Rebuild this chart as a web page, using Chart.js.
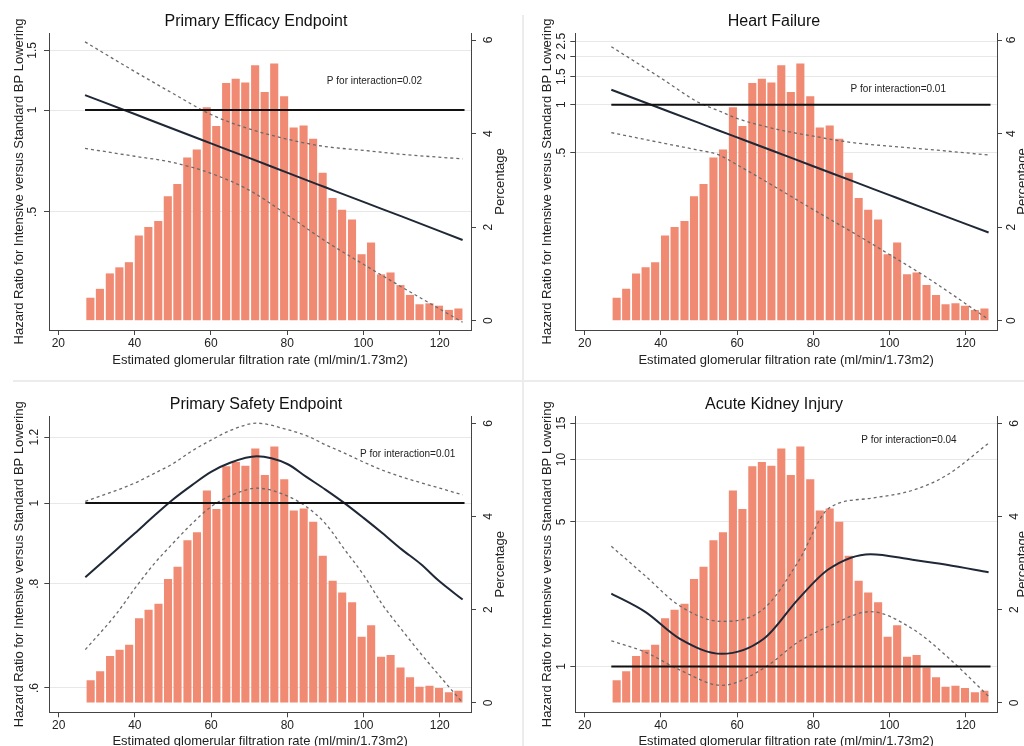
<!DOCTYPE html>
<html>
<head>
<meta charset="utf-8">
<script src="https://cdn.jsdelivr.net/npm/chart.js@4.4.1/dist/chart.umd.min.js"></script>
<style>
html, body { margin: 0; padding: 0; background: #fff; }
body { width: 1024px; height: 746px; overflow: hidden; position: relative; }
.panel { position: absolute; }
.sep { position: absolute; background: #ececec; }
</style>
</head>
<body>
<div class="sep" style="left:522px;top:15px;width:2px;height:731px"></div>
<div class="sep" style="left:13px;top:380px;width:1011px;height:2px"></div>
<div class="panel" style="left:0;top:0;width:512px;height:373px"><canvas id="efficacy"></canvas></div>
<div class="panel" style="left:512px;top:0;width:524px;height:373px"><canvas id="heart"></canvas></div>
<div class="panel" style="left:0;top:373px;width:512px;height:390px"><canvas id="safety"></canvas></div>
<div class="panel" style="left:512px;top:373px;width:524px;height:390px"><canvas id="kidney"></canvas></div>
<script>
// eGFR histogram, the same in every panel
var binMid = [28.4, 30.9, 33.5, 36.0, 38.5, 41.1, 43.6, 46.2, 48.7, 51.2, 53.8, 56.3, 58.9,
    61.4, 64.0, 66.5, 69.0, 71.6, 74.1, 76.6, 79.2, 81.7, 84.3, 86.8, 89.3, 91.9, 94.4,
    97.0, 99.5, 102.0, 104.6, 107.1, 109.7, 112.2, 114.7, 117.3, 119.8, 122.4, 124.9];
var binPct = [0.49, 0.68, 1.01, 1.14, 1.25, 1.82, 2.00, 2.13, 2.66, 2.92, 3.49, 3.66, 4.56,
    4.16, 5.08, 5.17, 5.09, 5.46, 4.89, 5.50, 4.80, 4.13, 4.17, 3.89, 3.16, 2.62, 2.37,
    2.16, 1.42, 1.67, 0.99, 1.03, 0.76, 0.55, 0.35, 0.37, 0.32, 0.23, 0.26];

var gfrTicks = [20, 40, 60, 80, 100, 120];
var pctTicks = [0, 2, 4, 6];

// reference line HR = 1
var refGfr = [27, 126.5];
var refHR = [1, 1];

// Primary efficacy endpoint
var effGfr = [27, 40, 50, 60, 70, 80, 90, 100, 110, 126];
var effHR = [1.107, 0.973, 0.880, 0.797, 0.722, 0.653, 0.591, 0.535, 0.485, 0.413];
var effUpper = [1.59, 1.30, 1.12, 0.97, 0.88, 0.82, 0.78, 0.76, 0.74, 0.717];
var effLower = [0.77, 0.73, 0.70, 0.65, 0.58, 0.49, 0.41, 0.35, 0.30, 0.236];
var effTicks = [0.5, 1, 1.5];
var effLabels = ['.5', '1', '1.5'];

// Heart failure
var hfGfr = [27, 40, 50, 55, 60, 70, 80, 90, 100, 110, 126];
var hfHR = [1.24, 0.947, 0.769, 0.692, 0.624, 0.507, 0.411, 0.334, 0.271, 0.220, 0.158];
var hfUpper = [2.31, 1.47, 1.03, 0.92, 0.82, 0.705, 0.635, 0.58, 0.55, 0.525, 0.484];
var hfLower = [0.668, 0.578, 0.518, 0.487, 0.42, 0.305, 0.22, 0.16, 0.115, 0.082, 0.045];
var hfTicks = [0.5, 1, 1.5, 2, 2.5];
var hfLabels = ['.5', '1', '1.5', '2', '2.5'];

// Primary safety endpoint
var safGfr = [27, 35, 40, 45, 50, 55, 60, 65, 72, 80, 85, 90, 95, 100, 105, 110, 115, 120, 126];
var safHR = [0.815, 0.878, 0.920, 0.965, 1.01, 1.051, 1.09, 1.118, 1.138, 1.114, 1.075,
    1.038, 1.0, 0.96, 0.92, 0.88, 0.845, 0.805, 0.766];
var safUpper = [1.005, 1.035, 1.057, 1.085, 1.115, 1.155, 1.19, 1.222, 1.247, 1.225, 1.205,
    1.175, 1.148, 1.12, 1.095, 1.075, 1.058, 1.042, 1.023];
var safLower = [0.667, 0.735, 0.79, 0.845, 0.895, 0.945, 0.99, 1.02, 1.042, 1.02, 0.99,
    0.945, 0.88, 0.82, 0.755, 0.705, 0.66, 0.62, 0.576];
var safTicks = [0.6, 0.8, 1, 1.2];
var safLabels = ['.6', '.8', '1', '1.2'];

// Acute kidney injury
var akiGfr = [27, 36, 45, 56, 67, 76, 84, 95, 106, 115, 126];
var akiHR = [2.25, 1.83, 1.36, 1.15, 1.36, 2.11, 2.95, 3.49, 3.28, 3.10, 2.85];
var akiUpper = [3.81, 2.73, 1.96, 1.65, 1.9, 3.2, 5.8, 6.5, 7.1, 8.4, 12.0];
var akiLower = [1.33, 1.17, 0.96, 0.81, 0.98, 1.31, 1.56, 1.84, 1.52, 1.12, 0.717];
var akiTicks = [1, 5, 10, 15];
var akiLabels = ['1', '5', '10', '15'];

Chart.defaults.font.family = '"Liberation Sans", Arial, Helvetica, sans-serif';
Chart.defaults.color = '#222';

// P value note and the right axis title (reads upward, like the left one)
var notePlugin = {
    id: 'note',
    afterDatasetsDraw: function (chart, args, opts) {
        var ctx = chart.ctx;
        var x = chart.scales.x, yR = chart.scales.yR, area = chart.chartArea;
        ctx.save();
        ctx.fillStyle = '#222';
        ctx.textAlign = 'center';
        ctx.textBaseline = 'middle';
        ctx.font = '10px "Liberation Sans", Arial, sans-serif';
        ctx.fillText(opts.text, x.getPixelForValue(opts.x), yR.getPixelForValue(opts.y));
        ctx.font = '13px "Liberation Sans", Arial, sans-serif';
        ctx.translate(yR.right - opts.titleOffset, (area.top + area.bottom) / 2);
        ctx.rotate(-Math.PI / 2);
        ctx.fillText('Percentage', 0, 0);
        ctx.restore();
    }
};

function points(xs, ys) {
    return xs.map(function (v, i) { return {x: v, y: ys[i]}; });
}

function drawPanel(id, p) {
    var ctx = document.getElementById(id);
    return new Chart(ctx, {
        type: 'bar',
        data: {
            datasets: [{
                type: 'line',
                data: points(refGfr, refHR),
                yAxisID: 'yL',
                borderColor: '#111',
                borderWidth: 2,
                pointRadius: 0
            }, {
                type: 'line',
                data: points(p.gfr, p.hr),
                yAxisID: 'yL',
                borderColor: '#1f2836',
                borderWidth: 2,
                pointRadius: 0,
                cubicInterpolationMode: 'monotone'
            }, {
                type: 'line',
                data: points(p.gfr, p.upper),
                yAxisID: 'yL',
                borderColor: '#6a6a6a',
                borderWidth: 1.3,
                borderDash: [3, 3],
                pointRadius: 0,
                cubicInterpolationMode: 'monotone'
            }, {
                type: 'line',
                data: points(p.gfr, p.lower),
                yAxisID: 'yL',
                borderColor: '#6a6a6a',
                borderWidth: 1.3,
                borderDash: [3, 3],
                pointRadius: 0,
                cubicInterpolationMode: 'monotone'
            }, {
                type: 'bar',
                data: points(binMid, binPct),
                yAxisID: 'yR',
                backgroundColor: 'rgb(240,138,115)',
                barPercentage: 0.85,
                categoryPercentage: 1,
                order: 5
            }]
        },
        options: {
            responsive: true,
            maintainAspectRatio: false,
            animation: false,
            events: [],
            plugins: {
                legend: {display: false},
                tooltip: {enabled: false},
                title: {
                    display: true,
                    text: p.title,
                    font: {size: 16, weight: 'normal'},
                    color: '#111',
                    padding: {top: p.box.titleTop, bottom: p.box.titleBottom}
                },
                note: {text: p.note, x: p.noteX, y: p.noteY, titleOffset: p.box.pctTitle}
            },
            scales: {
                x: {
                    type: 'linear',
                    min: 17.55,
                    max: 128.2,
                    offset: false,
                    afterBuildTicks: function (s) { s.ticks = gfrTicks.map(function (v) { return {value: v}; }); },
                    afterFit: function (s) { s.height = p.box.bottom; },
                    grid: {drawOnChartArea: false, offset: false, tickLength: 5, tickColor: '#444'},
                    border: {color: '#444'},
                    ticks: {font: {size: 12}, padding: 1, maxRotation: 0, autoSkip: false},
                    title: {
                        display: true,
                        text: 'Estimated glomerular filtration rate (ml/min/1.73m2)',
                        font: {size: 13},
                        padding: {top: 0, bottom: p.box.xTitle}
                    }
                },
                yL: {
                    type: 'logarithmic',
                    position: 'left',
                    min: p.min,
                    max: p.max,
                    afterBuildTicks: function (s) { s.ticks = p.ticks.map(function (v) { return {value: v}; }); },
                    afterFit: function (s) { s.width = p.box.left; },
                    grid: {color: '#e8e8e8', tickColor: '#444', tickLength: 5},
                    border: {color: '#444'},
                    ticks: {
                        minRotation: 90,
                        maxRotation: 90,
                        crossAlign: 'center',
                        padding: p.box.leftPad,
                        autoSkip: false,
                        font: {size: 12},
                        callback: function (v, i) { return p.labels[i]; }
                    },
                    title: {
                        display: true,
                        text: 'Hazard Ratio for Intensive versus Standard BP Lowering',
                        font: {size: 13},
                        padding: {top: p.box.leftTitle, bottom: 0}
                    }
                },
                yR: {
                    type: 'linear',
                    position: 'right',
                    min: -0.2,
                    max: 6.15,
                    afterBuildTicks: function (s) { s.ticks = pctTicks.map(function (v) { return {value: v}; }); },
                    afterFit: function (s) { s.width = p.box.right; },
                    grid: {drawOnChartArea: false, tickColor: '#444', tickLength: 5},
                    border: {color: '#444'},
                    ticks: {
                        minRotation: 90,
                        maxRotation: 90,
                        crossAlign: 'center',
                        padding: p.box.rightPad,
                        autoSkip: false,
                        font: {size: 12}
                    }
                }
            }
        },
        plugins: [notePlugin]
    });
}

drawPanel('efficacy', {
    title: 'Primary Efficacy Endpoint',
    gfr: effGfr, hr: effHR, upper: effUpper, lower: effLower,
    ticks: effTicks, labels: effLabels, min: 0.2238, max: 1.689,
    note: 'P for interaction=0.02', noteX: 102.9, noteY: 5.12,
    box: {titleTop: 12.4, titleBottom: 1.4, bottom: 43, xTitle: 5.2, left: 49, leftTitle: 11.5,
          leftPad: 2.7, right: 41, rightPad: 9.5, pctTitle: 12}
});

drawPanel('heart', {
    title: 'Heart Failure',
    gfr: hfGfr, hr: hfHR, upper: hfUpper, lower: hfLower,
    ticks: hfTicks, labels: hfLabels, min: 0.0387, max: 2.815,
    note: 'P for interaction=0.01', noteX: 102.3, noteY: 4.95,
    box: {titleTop: 12.4, titleBottom: 1.4, bottom: 43, xTitle: 5.2, left: 63.3, leftTitle: 27.2,
          leftPad: 0.7, right: 39, rightPad: 6, pctTitle: 14}
});

drawPanel('safety', {
    title: 'Primary Safety Endpoint',
    gfr: safGfr, hr: safHR, upper: safUpper, lower: safLower,
    ticks: safTicks, labels: safLabels, min: 0.561, max: 1.271,
    note: 'P for interaction=0.01', noteX: 111.6, noteY: 5.34,
    box: {titleTop: 22.1, titleBottom: 2.0, bottom: 50.7, xTitle: 14.2, left: 49.3, leftTitle: 11.5,
          leftPad: 1.0, right: 41, rightPad: 9.5, pctTitle: 12}
});

drawPanel('kidney', {
    title: 'Acute Kidney Injury',
    gfr: akiGfr, hr: akiHR, upper: akiUpper, lower: akiLower,
    ticks: akiTicks, labels: akiLabels, min: 0.6126, max: 16.19,
    note: 'P for interaction=0.04', noteX: 105.1, noteY: 5.64,
    box: {titleTop: 22.1, titleBottom: 2.0, bottom: 50.7, xTitle: 14.2, left: 63.3, leftTitle: 27.2,
          leftPad: 2.3, right: 39, rightPad: 9, pctTitle: 14}
});
</script>
</body>
</html>
